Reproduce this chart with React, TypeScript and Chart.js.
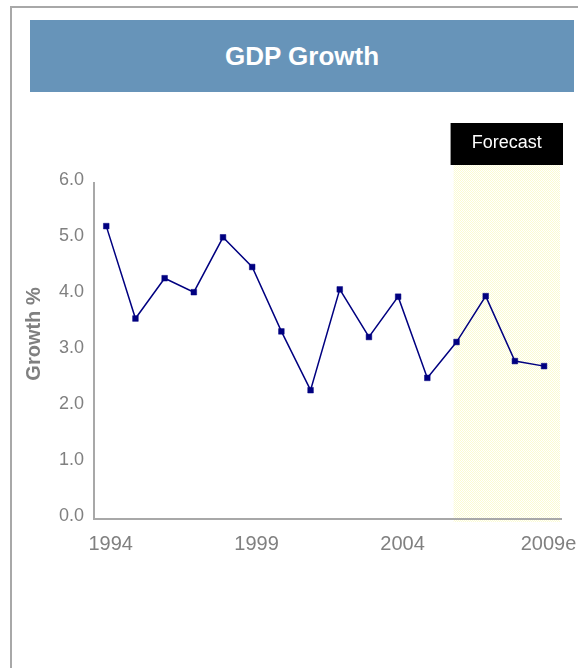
import { useEffect, useRef } from 'react';
import { Chart, registerables } from 'chart.js';

Chart.register(...registerables);

// Annual real GDP growth, %
const years = [1994, 1995, 1996, 1997, 1998, 1999, 2000, 2001, 2002, 2003, 2004, 2005, 2006, 2007, 2008, 2009];
const growth = [5.23, 3.58, 4.3, 4.05, 5.03, 4.5, 3.35, 2.3, 4.1, 3.25, 3.97, 2.52, 3.16, 3.98, 2.82, 2.73];

const xTickYears = [1994, 1999, 2004, 2009];
const xTickLabels = ['1994', '1999', '2004', '2009e'];
const yTicks = [0, 1, 2, 3, 4, 5, 6];

// first forecast year band starts just before 2006
const forecastFrom = 2005.9;

const FONT = '"Liberation Sans", Arial, Helvetica, sans-serif';
const AXIS_GREY = '#a8a8a8';
const TEXT_GREY = '#808080';
const NAVY = '#000080';

function makeDotPattern(ctx: CanvasRenderingContext2D) {
  const c = document.createElement('canvas');
  c.width = 2;
  c.height = 2;
  const p = c.getContext('2d')!;
  p.fillStyle = '#ffffff';
  p.fillRect(0, 0, 2, 2);
  p.fillStyle = '#fbfbd2';
  p.fillRect(0, 0, 1, 1);
  p.fillRect(1, 1, 1, 1);
  return ctx.createPattern(c, 'repeat') || '#fdfde8';
}

const forecastPlugin = {
  id: 'forecastBand',
  beforeDraw(chart: any) {
    const { ctx, chartArea, scales } = chart;
    const x0 = scales.x.getPixelForValue(forecastFrom);
    const x1 = chartArea.right - 1;
    const top = chartArea.top - 18;
    ctx.save();
    ctx.fillStyle = makeDotPattern(ctx);
    ctx.fillRect(x0, top, x1 - x0, chartArea.bottom + 3 - top);
    ctx.fillStyle = '#000000';
    ctx.fillRect(x0 - 3, top - 42, x1 - x0 + 6, 42);
    ctx.fillStyle = '#ffffff';
    ctx.font = `18px ${FONT}`;
    ctx.textAlign = 'center';
    ctx.textBaseline = 'middle';
    ctx.fillText('Forecast', (x0 + x1) / 2, top - 22);
    ctx.restore();
  },
};

const yTitlePlugin = {
  id: 'yTitle',
  afterDraw(chart: any) {
    const { ctx, chartArea } = chart;
    const cx = chartArea.left - 60;
    const cy = (chartArea.top + chartArea.bottom) / 2 - 17;
    ctx.save();
    ctx.translate(cx, cy);
    ctx.rotate(-Math.PI / 2);
    ctx.fillStyle = TEXT_GREY;
    ctx.font = `bold 20px ${FONT}`;
    ctx.textAlign = 'center';
    ctx.textBaseline = 'middle';
    ctx.fillText('Growth %', 0, 0);
    ctx.restore();
  },
};

export default function App() {
  const canvasRef = useRef<HTMLCanvasElement>(null);

  useEffect(() => {
    const canvas = canvasRef.current;
    if (!canvas) return;
    const chart = new Chart(canvas, {
      type: 'line',
      data: {
        datasets: [
          {
            label: 'GDP Growth',
            data: years.map((y, i) => ({ x: y, y: growth[i] })),
            borderColor: NAVY,
            borderWidth: 1.5,
            backgroundColor: NAVY,
            pointStyle: 'rect',
            pointRadius: 4,
            pointBorderWidth: 0.5,
            pointBorderColor: NAVY,
            pointBackgroundColor: NAVY,
            tension: 0,
            fill: false,
          },
        ],
      },
      options: {
        responsive: false,
        animation: false,
        events: [],
        layout: { padding: { top: 183, right: 17, bottom: 109, left: 0 } },
        plugins: {
          legend: { display: false },
          tooltip: { enabled: false },
          title: { display: false },
        },
        scales: {
          x: {
            type: 'linear',
            min: 1993.58,
            max: 2009.58,
            grid: { display: false, drawTicks: false },
            border: { display: true, color: AXIS_GREY, width: 2 },
            afterBuildTicks: (s: any) => {
              s.ticks = xTickYears.map((v) => ({ value: v + 0.15 }));
            },
            afterFit: (s: any) => {
              s.height = 40;
              s.paddingLeft = 0;
              s.paddingRight = 0;
            },
            ticks: {
              autoSkip: false,
              maxRotation: 0,
              minRotation: 0,
              padding: 13,
              color: TEXT_GREY,
              font: { family: FONT, size: 20 },
              callback: (_v: any, i: number) => xTickLabels[i],
            },
          },
          y: {
            min: 0,
            max: 6,
            grid: { display: false, drawTicks: false },
            border: { display: true, color: AXIS_GREY, width: 2 },
            afterBuildTicks: (s: any) => {
              s.ticks = yTicks.map((v) => ({ value: v }));
            },
            afterFit: (s: any) => {
              s.width = 94;
              s.paddingTop = 0;
              s.paddingBottom = 0;
            },
            ticks: {
              padding: 10,
              labelOffset: -2.5,
              color: TEXT_GREY,
              font: { family: FONT, size: 18 },
              callback: (v: any) => Number(v).toFixed(1),
            },
          },
        },
      },
      plugins: [forecastPlugin, yTitlePlugin],
    });
    return () => chart.destroy();
  }, []);

  return (
    <>
      <div
        style={{
          position: 'absolute',
          left: 10,
          top: 6,
          width: 566,
          height: 660,
          borderLeft: `2px solid ${AXIS_GREY}`,
          borderTop: `2px solid ${AXIS_GREY}`,
        }}
      />
      <div
        style={{
          position: 'absolute',
          left: 30,
          top: 20,
          width: 544,
          height: 72,
          background: '#6794b9',
          color: '#ffffff',
          fontFamily: FONT,
          fontWeight: 'bold',
          fontSize: 26,
          display: 'flex',
          alignItems: 'center',
          justifyContent: 'center',
        }}
      >
        GDP Growth
      </div>
      <canvas
        ref={canvasRef}
        width={578}
        height={668}
        style={{ position: 'absolute', left: 0, top: 0, display: 'block' }}
      />
    </>
  );
}
